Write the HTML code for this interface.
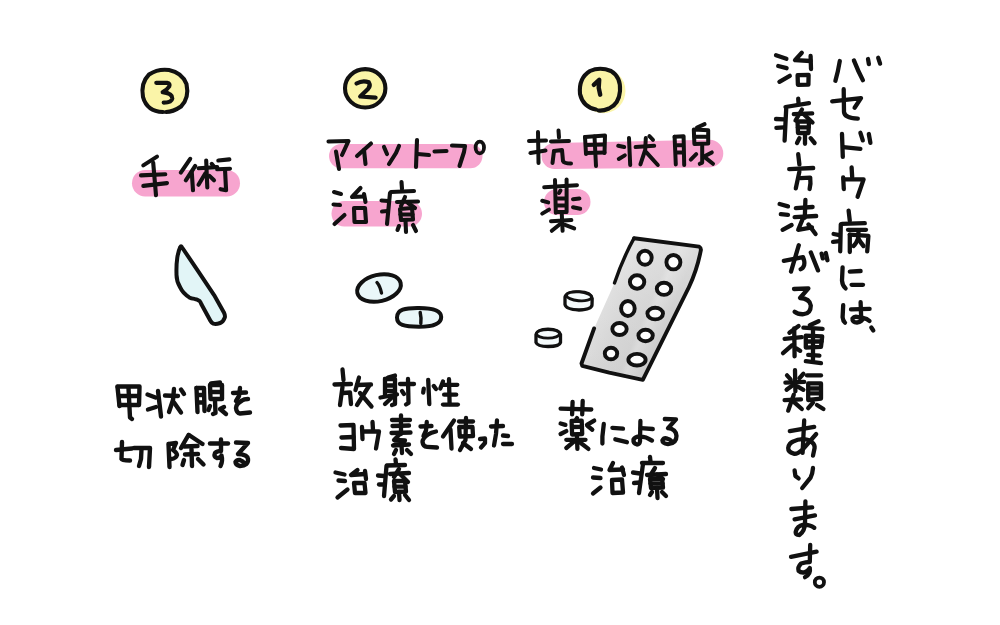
<!DOCTYPE html>
<html><head><meta charset="utf-8"><style>
html,body{margin:0;padding:0;background:#fff;width:1000px;height:625px;overflow:hidden;font-family:"Liberation Sans",sans-serif}
svg{position:absolute;left:0;top:0}
</style></head><body>
<svg width="1000" height="625" viewBox="0 0 1000 625">
<!-- pink highlighter bars -->
<g fill="#f7a5cf" stroke="none">
<rect x="132" y="170" width="108" height="26.4" rx="13.2"/>
<rect x="329" y="144" width="153.5" height="24.2" rx="12.1"/>
<rect x="331.5" y="201" width="90.5" height="25.4" rx="12.7"/>
<path d="M554.5 143 L709.5 139.8 A13.8 13.8 0 0 1 709.5 167.4 L554.5 169 A13 13 0 0 1 554.5 143 Z"/>
<rect x="544" y="189" width="46.5" height="26" rx="13"/>
</g>
<!-- circled numbers -->
<g fill="#faf4a8">
<ellipse cx="165.2" cy="90.7" rx="23.5" ry="21.5"/>
<ellipse cx="365.2" cy="88.3" rx="20.5" ry="19.5"/>
<ellipse cx="603.2" cy="90.8" rx="22.3" ry="22.5"/>
</g>
<g fill="none" stroke="#111" stroke-width="4.1" stroke-linecap="round" stroke-linejoin="round">
<path d="M163 112 Q147 111.5 143 97 Q140.5 83 149 74.5 Q158 68.5 169 70 Q182 72.5 186.5 84 Q189.5 98 181 106.5 Q173 112 166 112"/>
<ellipse cx="365.2" cy="88.3" rx="20.2" ry="19.2"/>
<path d="M596 109.5 Q583 107 580 94 Q578.5 78 590 71 Q600 66.5 611 71 Q621 77 620 91 Q619 104 609 108.5 Q603 111 598.5 110.5"/>
<path d="M156.3 82.8 L167 82.8 Q170.5 83.5 169.2 86.5 Q167 90 162.7 92.2 Q172.6 93.5 172.3 98.5 Q171.6 102.6 163.7 102.6" stroke-width="4.2"/>
<path d="M356.5 83.5 Q362.7 79.8 368.8 82.3 Q371 86 368 89 L360.2 96.5 L375.6 97.6" stroke-width="4.2"/>
<path d="M593.8 84.8 L599.2 79.8 L598.7 87.7 L600.2 94.7" stroke-width="4.4"/>
</g>
<!-- knife -->
<path d="M181.8 247 L199.1 272.6 L214.1 295.1 L223.9 312.4 Q225.5 316 224.7 317.7 Q223 322 220.2 323 Q216 324.5 213.4 323.7 Q211.5 322.8 210.4 320.7 L201.4 304.2 Q200.5 301.8 199.8 301.2 Q197 299.2 194.6 298.9 Q191 298.3 189.3 297.4 Q182.5 293 180.3 287.6 Q176.3 281 176.5 274.1 Q176.2 265 177.3 257.5 Q178.5 250.5 180.3 247 Q181 245.5 181.8 247 Z" fill="#e2f5f7" stroke="#111" stroke-width="4" stroke-linejoin="round"/>
<!-- pills flat -->
<g fill="#eaf7f9" stroke="#111" stroke-width="4">
<ellipse cx="379" cy="288" rx="22.2" ry="13.2" transform="rotate(-13 379 288)"/>
<path d="M397 317.5 C397 309.5 405 307.8 419 308 C434 308 441.2 310.5 441.2 317 C441.2 324 434 326.8 419 326.8 C404 326.8 397 325 397 317.5 Z"/>
</g>
<g fill="none" stroke="#111" stroke-width="3.4" stroke-linecap="round">
<path d="M377 282.5 Q380 286 381.5 293"/>
<path d="M420.2 312.5 Q421.5 318 420.8 323.5"/>
</g>
<!-- blister pack -->
<defs>
<linearGradient id="bg" gradientUnits="userSpaceOnUse" x1="596" y1="298" x2="690" y2="338">
<stop offset="0" stop-color="#e0e0e0"/>
<stop offset="0.28" stop-color="#d5d5d5"/>
<stop offset="0.5" stop-color="#d0d0d0"/>
<stop offset="0.56" stop-color="#d9d9d9"/>
<stop offset="0.72" stop-color="#cacaca"/>
<stop offset="1" stop-color="#c8c8c8"/>
</linearGradient>
<linearGradient id="bg2" gradientUnits="userSpaceOnUse" x1="668" y1="242" x2="612" y2="375">
<stop offset="0" stop-color="#fff" stop-opacity="0.3"/>
<stop offset="0.45" stop-color="#fff" stop-opacity="0.12"/>
<stop offset="1" stop-color="#fff" stop-opacity="0"/>
</linearGradient>
</defs>
<path d="M634.1 238.2 L699.1 246.6 Q701.5 248 700.7 251 Q697 270 689 287 L642.8 379.9 L581.2 364.8 L594.1 328.4 L614.5 283 Z" fill="url(#bg)"/>
<path d="M634.1 238.2 L699.1 246.6 Q701.5 248 700.7 251 Q697 270 689 287 L642.8 379.9 L581.2 364.8 L594.1 328.4 L614.5 283 Z" fill="url(#bg2)"/>
<g fill="none" stroke="#111" stroke-linecap="round" stroke-linejoin="round">
<path d="M614.5 283 Q623 258 634.1 238.2" stroke-width="3.4"/>
<path d="M634.1 238.2 L699.1 246.6 Q701.5 248 700.7 251 Q697 270 689 287 L642.8 379.9 L609.2 372.6 L582.3 365.9 L581.5 363.5 L594.1 328.4" stroke-width="3.9"/>
</g>
<g fill="#fdfdfd" stroke="#111" stroke-width="3.9">
<ellipse cx="645" cy="257.8" rx="6.7" ry="7"/>
<ellipse cx="673.4" cy="262.2" rx="7" ry="7.2"/>
<ellipse cx="637.1" cy="282" rx="7.2" ry="6.7"/>
<ellipse cx="664" cy="288.8" rx="7.2" ry="6.1"/>
<ellipse cx="627.9" cy="308.5" rx="6.8" ry="7.5"/>
<ellipse cx="655.2" cy="313.6" rx="7.8" ry="5.8"/>
<ellipse cx="619.5" cy="329" rx="7.2" ry="6"/>
<ellipse cx="645.6" cy="335.5" rx="7.2" ry="5.7"/>
<ellipse cx="611" cy="353.5" rx="6.2" ry="5.8"/>
<ellipse cx="637" cy="359.7" rx="8.6" ry="5.8"/>
</g>
<!-- loose pills -->
<g fill="#f5fbfc" stroke="#111" stroke-width="3.3" stroke-linejoin="round">
<path d="M565 297 L565 304.5 Q566 309.5 579 310 Q591.5 309.5 592 305 L592.2 298.5 Q591 292 579 291.8 Q566 292 565 297 Z"/>
<ellipse cx="579" cy="296.3" rx="12.6" ry="4.4" transform="rotate(5 579 296.3)" stroke-width="2.9"/>
<path d="M536 334.5 L536 342.5 Q537.5 346.5 548 346.5 Q559.5 346.5 560.5 342.5 L560.5 334.5 Q559 329.2 548 329.2 Q537.5 329.2 536 334.5 Z"/>
<ellipse cx="548" cy="333.8" rx="11.6" ry="4.3" stroke-width="2.9"/>
</g>
<!-- strokes -->
<g fill="none" stroke="#111" stroke-width="4.2" stroke-linecap="round" stroke-linejoin="round">
<g stroke-width="4.0">
<!-- 抗 -->
<path d="M529 141 L546 140.5"/>
<path d="M538 132 L538.5 163"/>
<path d="M530.5 153 L545.5 150.5"/>
<path d="M558.5 130.5 L559 137.5"/>
<path d="M551 141.5 L569 141"/>
<path d="M554 151 L552.5 163"/>
<path d="M554 151 L562 150 L563 161 Q564 163.5 571 163.5"/>
<!-- 甲 -->
<path d="M585 137 L586 154"/>
<path d="M585 137 L605 135.5 L604.5 153"/>
<path d="M586 145 L604 144.5"/>
<path d="M586 153 L604.5 152.5"/>
<path d="M594.5 136.5 L596 166"/>
<!-- 状 -->
<path d="M629 138 L630.2 165"/>
<path d="M618.2 145.8 L624.2 147"/>
<path d="M618.8 159 L624.8 155.4"/>
<path d="M635.6 147 L654.2 145.8"/>
<path d="M645.8 138 L645.2 150 L640.4 164.4"/>
<path d="M646.4 152.4 L657.8 165"/>
<path d="M649.4 136.2 L653 139.8"/>
<!-- 腺 -->
<path d="M674.6 136.8 L675.8 164.4"/>
<path d="M674.6 136.8 L683.6 136.2 L684.2 165"/>
<path d="M677 145.2 L683 145.2"/>
<path d="M677 152.4 L683 152.4"/>
<path d="M704.6 124.2 L697 127.5"/>
<path d="M693.8 129.6 L694.4 144 L708.2 143.4 L708.2 130.2 Z"/>
<path d="M694.5 136.8 L708 136.8"/>
<path d="M702.2 145.8 L702.2 162.6 L699.8 163.8"/>
<path d="M696.2 154.2 L690.8 159.6"/>
<path d="M711.8 152.4 L704 156.6 L713 163.8"/>
<!-- 薬 top -->
<path d="M544.2 187.2 L577 185.2"/>
<path d="M555 180 L555.8 212.8"/>
<path d="M566.6 179.6 L566.6 212"/>
<path d="M557 198.4 L565.8 198.4"/>
<path d="M557 205.6 L565.8 205.6"/>
<path d="M556 212 L566 212"/>
<path d="M560.5 190.5 L559 193"/>
<path d="M542.2 200.8 L548.2 202.4"/>
<path d="M542.2 213.6 L549 209.6"/>
<path d="M573 199.2 L579.4 198.4"/>
<path d="M573 207.2 L580.2 208.8"/>
<path d="M551 221.2 L571.4 220"/>
<path d="M561.8 214.4 L562.6 230.8"/>
<path d="M560.2 224 L551.8 230.8"/>
<path d="M565 224.8 L574.2 228.4"/>
</g>
<g stroke-width="4.3">
<!-- 薬 -->
<path d="M560.6 408.6 L591.3 409.5"/>
<path d="M572.6 401.8 L572.1 414.3"/>
<path d="M582.7 400.9 L582.2 414.3"/>
<path d="M577 418 L575.5 420.5"/>
<path d="M571.6 421 L572.1 434.5 L582.2 434 L581.7 420.6 Z"/>
<path d="M572 427 L582 426.8"/>
<path d="M560.6 423.5 L565.4 424.9"/>
<path d="M560.6 434 L566.3 431.1"/>
<path d="M594.2 420.6 L587 424.9"/>
<path d="M587.5 425.9 L592.3 429.7"/>
<path d="M566.3 439.8 L585.5 439.8"/>
<path d="M576.9 435.5 L577.4 448.9"/>
<path d="M574.5 441.2 L566.3 448"/>
<path d="M579.8 442.2 L588.4 448.9"/>
<!-- に -->
<path d="M603.8 423.9 L602.4 436.4 L602.4 443.6"/>
<path d="M612.4 427.8 L623 428.7"/>
<path d="M615.3 439.3 L626.9 442.2"/>
<!-- よ -->
<path d="M640.4 421 L640 441.5 Q639.5 444.5 637 444.5 Q633 443.5 633.5 439.5 Q635 436.5 640 436.3 Q646 436.5 652 440.6"/>
<path d="M640.8 428.2 L652.8 429"/>
<!-- る -->
<path d="M664.8 419 L676 419.4 L668 428.2 Q676 429 676.5 436 Q676.5 443.5 668 444.2 Q662.5 443.5 662.4 440.5 Q664 437.5 667.2 438.6 Q670 439 672 441.5"/>
<!-- 治 -->
<path d="M594 468 L601 469.5"/>
<path d="M593 477.5 L600.5 478"/>
<path d="M593 493.5 L600.5 487.5"/>
<path d="M613 463 L609.5 470 L623 469.5"/>
<path d="M622 467.5 L624 475"/>
<path d="M612 480 L612.5 493 L623 492.5 L622 479.5 Z"/>
<!-- 療 -->
<path d="M650 457 L650.5 461.5"/>
<path d="M642 463 L663 463"/>
<path d="M643 464 L639 493"/>
<path d="M633 472.5 L640 473.5"/>
<path d="M634 483 L640 482.5"/>
<path d="M647 475 L666 474"/>
<path d="M655 468 L650 476"/>
<path d="M657 474.5 L663 479"/>
<path d="M650 479 L651 488 L663 487.5 L662 478.5 Z"/>
<path d="M650.5 483.5 L662.5 483.5"/>
<path d="M657 488 L657.5 498"/>
<path d="M652 492 L650 495"/>
<path d="M662 492 L666 496"/>
</g>
<g stroke-width="4.1">
<!-- ア -->
<path d="M328.5 141.5 L348.5 141 L342 155"/>
<path d="M336 151.5 L339 169"/>
<!-- イ -->
<path d="M371 143.5 L357 156"/>
<path d="M364 150 L365.5 164"/>
<!-- ソ -->
<path d="M384 147 L387 154"/>
<path d="M399 146 L396 153 L389 164"/>
<!-- ト -->
<path d="M417 140 L416 167"/>
<path d="M417.5 154 L429 155"/>
<!-- ー -->
<path d="M434.5 151.5 L446.5 151"/>
<!-- プ -->
<path d="M452 145.5 L465 146 L464 152 L459.5 166"/>
<ellipse cx="479.8" cy="147.5" rx="4.2" ry="5.8" stroke-width="3.8"/>
<!-- 治 -->
<path d="M334 192 L341 194"/>
<path d="M333.5 204.5 L340 205"/>
<path d="M334.5 224 L344.5 215"/>
<path d="M360.5 188 L352 197 L364 196.5"/>
<path d="M364 194 L365.5 202"/>
<path d="M354 208 L354.5 222 L366 222 L365 208 Z"/>
<!-- 療 -->
<path d="M401.5 182 L402 189"/>
<path d="M391 192 L414 191"/>
<path d="M390 193 L387 224"/>
<path d="M381.5 200.5 L388 201"/>
<path d="M382 211.5 L387.5 211"/>
<path d="M397 202 L418 201.5"/>
<path d="M405 197 L401 206"/>
<path d="M408 203 L415 208"/>
<path d="M400 209 L401 220 L413 219.5 L412 208 Z"/>
<path d="M400.5 214.5 L412.5 214.5"/>
<path d="M405.5 220 L406 232"/>
<path d="M399 226 L397.5 230"/>
<path d="M413 225 L416 231"/>
</g>
<g stroke-width="4.3">
<!-- 放 -->
<path d="M342.5 369.5 L343.5 380"/>
<path d="M334.5 384.5 L351 384"/>
<path d="M342.5 387 L340 405"/>
<path d="M343 393 L350 392.5 L351 404"/>
<path d="M359 377.5 L355.5 390"/>
<path d="M357 385 L371 384.5"/>
<path d="M369 386 L357 405"/>
<path d="M360 393 L371.5 406.5"/>
<!-- 射 -->
<path d="M395 375.5 L388 377.5"/>
<path d="M385 379 L385 395"/>
<path d="M385 379 L395 379 L395 404 L392 405"/>
<path d="M386 385.5 L394 385.5"/>
<path d="M386 391 L394 391"/>
<path d="M380.5 397.5 L397 394.5"/>
<path d="M394 395.5 L385 404"/>
<path d="M400 384 L414 384"/>
<path d="M408 379 L408.5 403 L406 404.5"/>
<path d="M402 391 L404 394"/>
<!-- 性 -->
<path d="M428.2 379.8 L429.3 404"/>
<path d="M423.8 388.6 L423.2 392.5"/>
<path d="M433.7 385.9 L436 389"/>
<path d="M443 381.5 L440.3 388.6"/>
<path d="M449 379.2 L449.6 404"/>
<path d="M443 384.8 L457.3 384.8"/>
<path d="M444.1 394.7 L456.2 394.7"/>
<path d="M443 404.6 L457.9 404.6"/>
<!-- ヨ -->
<path d="M340.5 425.5 L353.5 425 L354 449 L341 448"/>
<path d="M341.5 437.5 L353.5 437"/>
<!-- ウ -->
<path d="M372.5 422 L373 430"/>
<path d="M362 427 L362.5 439"/>
<path d="M363 431.5 L379 431.5 L376 448.5"/>
<!-- 素 -->
<path d="M401 415.5 L401 434"/>
<path d="M392 420 L410 420"/>
<path d="M392.5 426 L409 425.5"/>
<path d="M391.5 433 L410.5 432.5"/>
<path d="M399 435 L394 440 L405 440.5 L393 445.5 L409 444.5"/>
<path d="M401.5 445 L402 453"/>
<path d="M396 450 L394 454"/>
<path d="M407 450 L411 454"/>
<!-- を -->
<path d="M420.5 426.5 L431.5 426"/>
<path d="M426.8 422 L426 430.5 L423.5 436"/>
<path d="M436 431.5 Q431 432.5 428 434.5 Q422.5 438.5 422.5 442 Q423 446.5 427 446.8 L437 447.5"/>
<!-- 使 -->
<path d="M454 420.5 L443 436.5"/>
<path d="M450.5 429.5 L451.5 448.5"/>
<path d="M459 421.5 L473 421.5"/>
<path d="M466 418 L465.5 440 L460 450"/>
<path d="M459.2 427 L459.8 436.5 L473 436 L472.5 427 Z"/>
<path d="M463 443 L471 449"/>
<!-- っ -->
<path d="M480 439 L485 438.5 L485 443 L481 447.5"/>
<!-- た -->
<path d="M491 426.5 L503 426"/>
<path d="M497 420.5 L496 434 L494 445.5"/>
<path d="M503 435.5 L508 436"/>
<path d="M503 444 L512 444"/>
<!-- 治 -->
<path d="M335.5 472.5 L344.5 474.5"/>
<path d="M338.5 480.5 L345 481"/>
<path d="M337.5 497.5 L347.5 489.5"/>
<path d="M357.5 470 L351 475 L365 474"/>
<path d="M365 471 L366 479"/>
<path d="M354 483 L355 493 L365.5 493 L364.5 483 Z"/>
<!-- 療 -->
<path d="M395.5 459.5 L396 464"/>
<path d="M387 465.5 L405 465"/>
<path d="M386.5 466 L384 496"/>
<path d="M378 475.5 L384 476"/>
<path d="M379 484.5 L384 484.5"/>
<path d="M390 474 L409 473"/>
<path d="M399 469 L394 477"/>
<path d="M401 475 L408 482"/>
<path d="M394 481 L395 492 L406 491.5 L405 481 Z"/>
<path d="M394.5 486.7 L405.5 486.7"/>
<path d="M399 492 L399.5 500"/>
<path d="M394 496 L391 499.5"/>
<path d="M405 495 L409 500"/>
</g>
<g stroke-width="4.1">
<!-- 手 -->
<path d="M157 156.6 L143.3 165.4"/>
<path d="M141 175.4 L165.3 174.3"/>
<path d="M143.3 185.9 L167 183.1"/>
<path d="M153.2 162.7 L156 195.2"/>
<!-- 術 -->
<path d="M190.2 158.8 L180.8 172.6"/>
<path d="M195.2 166 L185.8 180.3"/>
<path d="M191.8 172.6 L193 190.3"/>
<path d="M198.5 168.2 L217.2 167.1"/>
<path d="M206.2 160.5 L207.3 187.5"/>
<path d="M205.1 173.7 L198.5 184.8"/>
<path d="M209.5 175.9 L214 180.3"/>
<path d="M211.7 163.8 L213.9 166.5"/>
<path d="M218.3 160.5 L229.4 159.4"/>
<path d="M217.2 169.3 L230 168.7"/>
<path d="M225 169.3 L226.1 190.3 L220.6 189.2"/>
</g>
<g stroke-width="4.4">
<!-- 甲 -->
<path d="M117.5 387 L119.5 406"/>
<path d="M117.5 386.5 L139.5 386.5 L139 405"/>
<path d="M119 396 L138.5 396"/>
<path d="M119.5 405 L138.5 405"/>
<path d="M128.5 388 L130 417.5 L132 419"/>
<!-- 状 -->
<path d="M147.5 394.5 L155.5 397.5"/>
<path d="M148 409.5 L156 407"/>
<path d="M158 391 L161 416.5"/>
<path d="M165 395.5 L178 396"/>
<path d="M174 389 L173 400 L169 412"/>
<path d="M174 402.5 L181 412.5"/>
<path d="M181 389.5 L184 394"/>
<!-- 腺 -->
<path d="M196.5 388 L197.5 412"/>
<path d="M196.5 388 L204 388 L204.5 411"/>
<path d="M197.5 395 L203.5 395"/>
<path d="M197.5 402.5 L203.5 402.5"/>
<path d="M220 382.5 L211 383.5"/>
<path d="M210 385 L210.5 399 L222 399 L222 385 Z"/>
<path d="M210.5 392 L221.5 392"/>
<path d="M215 401 L215.5 413 L213 414"/>
<path d="M210 406 L208.5 410"/>
<path d="M224 407 L220 409 L226 414"/>
<!-- を -->
<path d="M233 393 L246 392.5"/>
<path d="M240 388 L239 396 L236 401"/>
<path d="M248 399 Q244 399 242 400.5 Q236 404 236 408 Q236.5 413 240 413.5 L250 412.5"/>
<!-- 切 -->
<path d="M116 450 L132 448.5"/>
<path d="M122 442 L121.5 459 Q122 460.5 130 460.5"/>
<path d="M134 448 L150 448 L149 467"/>
<path d="M141.5 449 L141 459 L139 466"/>
<!-- 除 -->
<path d="M168.5 444 L169.5 467"/>
<path d="M169 444 L176 443 L173 450 Q177 453 177 455 Q176 458.5 171 459"/>
<path d="M188.5 435 L181 448"/>
<path d="M189 435 L202.5 444"/>
<path d="M184 446.5 L197.5 446"/>
<path d="M185 454.5 L198 454"/>
<path d="M191.5 449 L192 466"/>
<path d="M184 460 L182.5 465"/>
<path d="M198 459 L203.5 464.5"/>
<!-- す -->
<path d="M210 443.5 L228 443.5"/>
<path d="M221 439.5 L221 451 Q217 451 215 453 Q213.5 456.5 217 458 Q220.5 458 221.5 455.5 Q223 461 220.5 466"/>
<!-- る -->
<path d="M236 442.5 L248 443 L238 454 Q247.5 454.5 248 459 Q248.5 465.5 240 466 Q235.5 465 235.5 462 Q237 459.5 240 460 Q243 461 245 464"/>
</g>
<g stroke-width="4.3">
<!-- バ -->
<path d="M839.8 61 Q838 72 835.4 80.8"/>
<path d="M853.9 60.4 Q858 71 862.9 80.2"/>
<path d="M868 59 L868.9 64.2"/>
<path d="M878.2 57.8 L880.1 63.6"/>
<!-- セ -->
<path d="M832.2 101.3 L861 98.1 L854.6 107.7"/>
<path d="M843.7 89.2 L844 112 Q844.5 118 857.8 118.6"/>
<!-- ド -->
<path d="M842 134 L842.8 156.8"/>
<path d="M843.2 147.2 L860.4 148.8"/>
<path d="M860.4 132.8 L862.8 140.4"/>
<path d="M868.8 134 L870.4 142.8"/>
<!-- ウ -->
<path d="M851.6 167.5 L852.2 177"/>
<path d="M843.2 177.5 L843.8 189"/>
<path d="M843.8 179.4 L863.6 179.4 L857.6 196.8"/>
<!-- 病 -->
<path d="M848.6 210.6 L849.8 220.8"/>
<path d="M842 223.8 L864.8 223.2"/>
<path d="M840.8 224.4 L840.2 251.4"/>
<path d="M833.6 234 L839.6 235.2"/>
<path d="M833 241.8 L839.6 241.2"/>
<path d="M848 229.8 L866 229.8"/>
<path d="M849.8 234.6 L849.8 252"/>
<path d="M849.8 234.6 L868.4 235.8 L867.2 251.4"/>
<path d="M858.5 231 L858.2 238.2 Q856 244 853.5 246"/>
<path d="M858.2 238.5 Q861 243 863.5 246"/>
<!-- に -->
<path d="M842.6 267.4 L842 280.6 Q842.5 286 845.6 288.4"/>
<path d="M849.8 271.6 L860.6 271"/>
<path d="M851.6 284.8 L863 284.8"/>
<!-- は -->
<path d="M843.2 305.2 L842.6 317.2 Q843 321 845 322.6"/>
<path d="M851 309.4 L869.6 308.8"/>
<path d="M860.6 302.2 L861.2 318.4 Q855 315 852.5 318.5 Q852 322.5 857 322.5 Q862 322 863 318 Q867 318.5 869.5 321"/>
<path d="M871.3 327.5 L873.3 330.5"/>
<!-- 治 -->
<path d="M776 55.3 L786.4 58.8"/>
<path d="M778.2 66 L786.6 68.2"/>
<path d="M779.4 81.8 L789.8 75.8"/>
<path d="M801.8 52.8 L795 60.2 L810.6 61"/>
<path d="M810.6 56 L811 69"/>
<path d="M797.6 75.2 L797.9 84.8 L808.4 84.6 L808.6 75 Z"/>
<!-- 療 -->
<path d="M798.2 98.6 L798.6 103.8"/>
<path d="M785.5 107 L809 103.2"/>
<path d="M786.2 109 L784.6 140.6"/>
<path d="M776 119 L784.2 119.4"/>
<path d="M776.4 127.8 L783.8 127.4"/>
<path d="M793.8 114.2 L812.2 113.4"/>
<path d="M802 109.5 L795.5 120.5"/>
<path d="M804 114.5 L812.5 122.5"/>
<path d="M797.5 121.5 L798 133 L808.5 133 L809 121.5 Z"/>
<path d="M798 127.3 L808.5 127.3"/>
<path d="M805 134.2 L805 143.8"/>
<path d="M799.4 138.2 L797 143"/>
<path d="M810.6 138.2 L814.6 143"/>
<!-- 方 -->
<path d="M798.2 154.2 L799.4 164.4"/>
<path d="M789.2 169.2 L813.2 168"/>
<path d="M799.4 171.6 L795.8 188.4"/>
<path d="M800.6 178.2 L810.2 177.6 Q811 184 809.6 189"/>
<!-- 法 -->
<path d="M779.6 204 L788 206.4"/>
<path d="M780.8 214.2 L788 214.8"/>
<path d="M782.6 229.8 L791.6 225"/>
<path d="M805.4 199.8 L804.8 217.8"/>
<path d="M795.8 208.2 L812.6 207"/>
<path d="M794.6 217.2 L816.2 216"/>
<path d="M802.4 219.6 L798.2 229.8 L812 227.4"/>
<path d="M808.4 224.4 L815.6 234"/>
<!-- が -->
<path d="M783.8 260.8 L803 257.2 Q805 262 804.2 265 Q803 268.5 800.6 269.2"/>
<path d="M798.8 245.2 L791 271.6"/>
<path d="M810.8 252.4 L818 270.4"/>
<path d="M821.6 253.6 L822.8 258.4"/>
<path d="M825.8 253 L827.4 260.2"/>
<!-- 3 -->
<path d="M794 289 L808.4 288.4 L800 298 Q809.6 298.5 810.8 305.5 Q810.8 313.5 803.6 314.2 Q798 314.5 794.6 311.8"/>
<!-- 種 -->
<path d="M798.6 326 L789.4 332.8"/>
<path d="M784.6 338.8 L801.8 337.2"/>
<path d="M794.2 328.4 L794.6 356.4"/>
<path d="M792.2 345.2 L783 353.2"/>
<path d="M796.2 348.4 L800.2 350.8"/>
<path d="M818.6 321.2 L809.8 325.2"/>
<path d="M803.4 327.6 L822.6 328.8"/>
<path d="M805.8 335.6 L805.8 347.6 L821 346.8 L822.2 336.4 Z"/>
<path d="M806.6 341.5 L821.5 341.5"/>
<path d="M813 330 L813 359.6"/>
<path d="M808.2 354.8 L819.4 355.6"/>
<path d="M805.8 361.2 L821 363.2"/>
<!-- 類 -->
<path d="M795 370.2 L795.4 391.4"/>
<path d="M785.4 382.6 L804.2 381.8"/>
<path d="M787 375.4 L790.6 379.4"/>
<path d="M803.4 373.8 L799.4 378.2"/>
<path d="M793 385 L786.6 389.8"/>
<path d="M797.8 386.6 L803.4 389.8"/>
<path d="M784.6 400.2 L801 399.4"/>
<path d="M793.8 394.6 L788.2 410.6"/>
<path d="M793.8 401.8 L801.8 409"/>
<path d="M807 375.4 L821 375.4"/>
<path d="M808.2 383.4 L808.2 400 L821 398.6 L821 383.4 Z"/>
<path d="M809.5 388.5 L820 388.5"/>
<path d="M809.5 393.4 L820 393.4"/>
<path d="M813 402.6 L808.2 408.2"/>
<path d="M817 405 L823.4 409"/>
<!-- あ -->
<path d="M789.8 431.2 L814.2 426.8"/>
<path d="M804.2 420.4 L802.6 452.8"/>
<path d="M816.2 434 L802.6 449.6 Q797 454.5 793.8 453.6 Q788 452 788.2 448 Q789 443 793 441.6 Q798 439 803.4 439.2 Q810 439.5 812.2 442.4 Q815 445 814.6 448 L813 455.6"/>
<!-- り -->
<path d="M794.6 470.4 L795.4 476 L798.6 478.4"/>
<path d="M813 468 Q812.5 474 810.6 477.6 L802.2 488"/>
<!-- ま -->
<path d="M791.4 509 L812.2 507.4"/>
<path d="M794.6 519.4 L815 515.4"/>
<path d="M805.4 501.4 L805 523 Q805 531 799.4 535 Q795 535 795.8 531.5 Q797 526 803.4 524.6 Q810 524.5 814.2 527.8"/>
<!-- す -->
<path d="M791 556.8 L816.6 551.6"/>
<path d="M810.2 544.8 L809.8 562 Q806 562 801 563.5 Q797.5 567 798.6 570.8 Q801 573 804.2 572.4 Q808 571 809.8 568 Q811 574 805 577.2"/>
<!-- 。 -->
<circle cx="819.4" cy="582.2" r="4.6" stroke-width="3.8"/>
</g>

</g>

</svg>
</body></html>
